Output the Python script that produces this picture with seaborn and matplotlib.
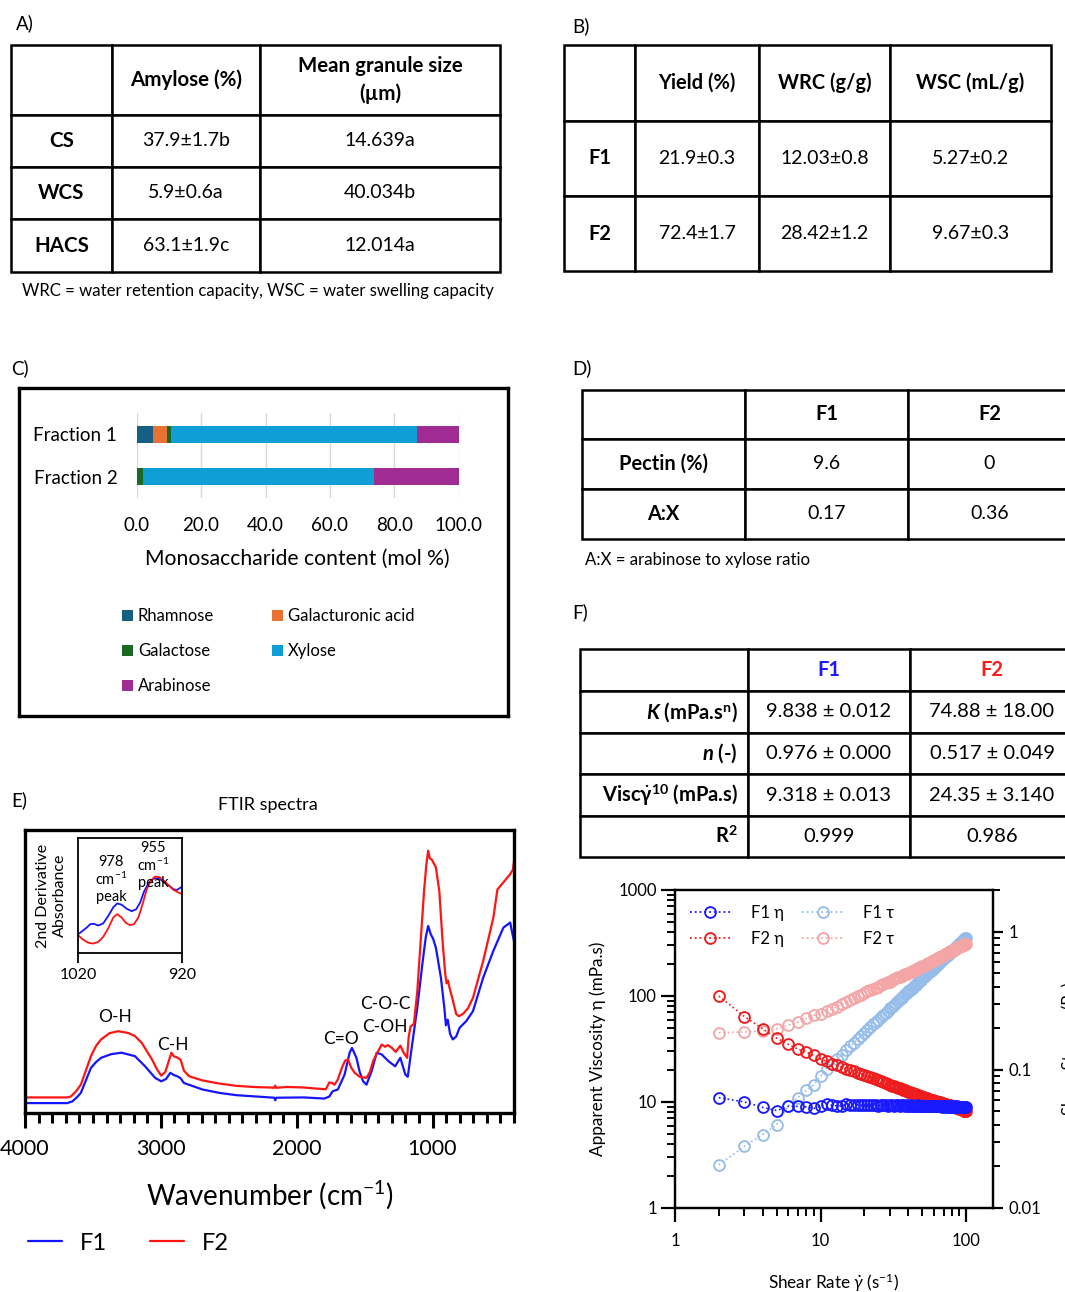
import matplotlib
matplotlib.use("Agg")
import matplotlib.pyplot as plt
import seaborn as sns
import numpy as np
import pandas as pd
from matplotlib.lines import Line2D
from matplotlib.patches import Patch
from matplotlib.ticker import MultipleLocator, NullFormatter

# ----------------------------- DATA -----------------------------
# Table A
tabA_header = ["", "Amylose (%)", "Mean granule size\n(µm)"]
tabA_rows = ["CS", "WCS", "HACS"]
tabA_amylose = ["37.9±1.7b", "5.9±0.6a", "63.1±1.9c"]
tabA_size = ["14.639a", "40.034b", "12.014a"]
tabA_note = "WRC = water retention capacity, WSC = water swelling capacity"

# Table B
tabB_header = ["", "Yield (%)", "WRC (g/g)", "WSC (mL/g)"]
tabB_rows = ["F1", "F2"]
tabB_yield = ["21.9±0.3", "72.4±1.7"]
tabB_wrc = ["12.03±0.8", "28.42±1.2"]
tabB_wsc = ["5.27±0.2", "9.67±0.3"]

# Panel C: monosaccharide composition (mol %)
fractions = ["Fraction 1", "Fraction 2"]
sugars = ["Rhamnose", "Galacturonic acid", "Galactose", "Xylose", "Arabinose"]
rhamnose = [5.2, 0.0]
galacturonic = [4.1, 0.0]
galactose = [1.2, 2.1]
xylose = [76.6, 71.6]
arabinose = [12.9, 26.3]
sugar_colors = ["#156082", "#E97132", "#196B24", "#0F9ED5", "#A02B93"]

# Table D
tabD_header = ["", "F1", "F2"]
tabD_rows = ["Pectin (%)", "A:X"]
tabD_f1 = ["9.6", "0.17"]
tabD_f2 = ["0", "0.36"]
tabD_note = "A:X = arabinose to xylose ratio"

# Panel E: FTIR spectra (wavenumber cm-1, absorbance a.u.)
ftir_wn_f2 = [4000, 3689, 3664, 3627, 3589, 3552, 3515, 3477, 3440, 3378,
              3315, 3241, 3191, 3141, 3066, 3029, 2997, 2967, 2942, 2922,
              2904, 2887, 2855, 2830, 2793, 2693, 2569, 2444, 2320, 2195,
              2165, 2158, 2150, 2071, 1946, 1847, 1785, 1760, 1740, 1722,
              1697, 1667, 1643, 1622, 1598, 1573, 1536, 1486, 1461, 1436,
              1404, 1374, 1349, 1329, 1299, 1270, 1237, 1212, 1187, 1175,
              1162, 1137, 1112, 1087, 1062, 1045, 1032, 1020, 1005, 975,
              950, 926, 906, 896, 886, 876, 851, 826, 806, 776,
              739, 702, 627, 552, 522, 478, 428, 408, 400]
ftir_abs_f2 = [5.5, 5.5, 5.8, 7.5, 10.0, 15.0, 20.0, 23.7, 26.0, 28.2,
               28.9, 28.3, 27.2, 24.8, 19.0, 15.5, 13.2, 14.5, 18.3, 21.3,
               20.0, 19.8, 18.9, 15.0, 13.0, 11.5, 10.4, 9.6, 9.2, 9.0,
               8.9, 9.7, 8.9, 9.2, 9.0, 8.6, 8.4, 10.8, 10.6, 10.0,
               11.8, 16.0, 18.5, 18.9, 16.0, 14.2, 12.8, 12.4, 14.5, 18.5,
               21.5, 24.2, 23.4, 24.0, 23.0, 21.6, 23.8, 21.3, 19.5, 27.0,
               30.5, 31.5, 43.0, 60.8, 78.5, 88.0, 92.7, 90.0, 89.5, 86.8,
               78.5, 60.8, 49.0, 45.8, 46.8, 44.5, 40.0, 35.0, 34.2, 35.0,
               37.0, 40.7, 53.7, 69.0, 79.0, 81.5, 84.4, 86.0, 89.0]
ftir_wn_f1 = [4000, 3689, 3651, 3619, 3589, 3552, 3515, 3477, 3440, 3365,
              3290, 3191, 3116, 3042, 2997, 2962, 2930, 2904, 2880, 2855,
              2830, 2693, 2569, 2444, 2320, 2165, 2158, 2150, 1946, 1797,
              1760, 1735, 1697, 1647, 1610, 1593, 1560, 1536, 1511, 1486,
              1448, 1411, 1374, 1324, 1275, 1237, 1200, 1182, 1150, 1112,
              1075, 1050, 1032, 1013, 995, 975, 938, 913, 901, 888,
              871, 851, 826, 801, 751, 702, 627, 552, 478, 428,
              415, 400]
ftir_abs_f1 = [3.5, 3.5, 4.1, 5.5, 7.1, 11.5, 15.9, 18.0, 19.5, 20.8,
               21.3, 20.1, 16.5, 12.4, 11.2, 12.0, 14.2, 13.4, 13.0, 12.3,
               10.6, 8.3, 7.1, 6.3, 5.9, 5.4, 4.5, 5.4, 5.5, 5.1,
               5.8, 7.7, 8.3, 13.6, 21.3, 23.0, 19.5, 14.5, 11.2, 10.0,
               14.8, 21.3, 20.7, 18.3, 16.5, 19.5, 13.6, 12.8, 24.2, 37.2,
               52.5, 62.0, 66.1, 63.2, 61.5, 58.4, 47.8, 37.2, 31.0, 33.0,
               28.0, 26.0, 27.0, 30.1, 32.5, 36.0, 47.8, 57.3, 65.5, 67.3,
               64.0, 60.8]
ftir_ticks = [4000, 3000, 2000, 1000]
ftir_labels = [("O-H", 3336, 34.0), ("C-H", 2912, 24.2), ("C=O", 1672, 26.0),
               ("C-O-C", 1349, 38.4), ("C-OH", 1349, 30.3)]

# Inset: 2nd derivative absorbance
inset_wn_f1 = [1020.0, 1016.8, 1011.9, 1008.1, 1004.8, 1000.6, 995.8, 991.0, 986.1, 982.3,
               978.1, 973.2, 968.4, 964.2, 960.3, 956.5, 952.3, 947.4, 942.6, 937.7,
               932.9, 928.1, 924.8, 920.0]
inset_f1 = [16.3, 18.4, 21.9, 25.1, 25.4, 23.9, 25.7, 32.1, 39.7, 43.1,
            42.0, 38.5, 36.4, 37.9, 43.7, 53.4, 60.6, 64.7, 65.0, 62.1,
            58.9, 55.4, 54.8, 57.7]
inset_wn_f2 = [1020.0, 1015.2, 1010.3, 1005.5, 1000.6, 995.8, 991.0, 986.1, 982.3, 978.1,
               973.9, 970.0, 966.1, 961.9, 957.7, 953.9, 950.0, 945.8, 941.6, 937.7,
               932.9, 928.1, 923.2, 920.0]
inset_f2 = [15.5, 11.7, 9.0, 8.2, 9.6, 14.0, 21.3, 30.9, 33.8, 30.9,
            26.2, 24.2, 25.1, 30.9, 43.1, 55.4, 63.0, 66.5, 65.9, 63.0,
            58.9, 54.8, 52.5, 51.3]

# Table F
tabF_header = ["", "F1", "F2"]
tabF_rows = ["$\\mathbfit{K}$ (mPa.s$^{\\mathbf{n}}$)", "$\\mathbfit{n}$ (-)",
             "Visc$\\dot{\\mathbf{\\gamma}}^{\\mathbf{10}}$ (mPa.s)", "R$^{\\mathbf{2}}$"]
tabF_f1 = ["9.838 ± 0.012", "0.976 ± 0.000", "9.318 ± 0.013", "0.999"]
tabF_f2 = ["74.88 ± 18.00", "0.517 ± 0.049", "24.35 ± 3.140", "0.986"]

# Panel F: flow curves
shear_rate = [2, 3, 4, 5, 6, 7, 8, 9, 10,
              11, 12, 13, 14, 15, 16, 17, 18, 19, 20,
              21, 22, 23, 24, 25, 26, 27, 28, 29, 30,
              31, 32, 33, 34, 35, 36, 37, 38, 39, 40,
              41, 42, 43, 44, 45, 46, 47, 48, 49, 50,
              51, 52, 53, 54, 55, 56, 57, 58, 59, 60,
              61, 62, 63, 64, 65, 66, 67, 68, 69, 70,
              71, 72, 73, 74, 75, 76, 77, 78, 79, 80,
              81, 82, 83, 84, 85, 86, 87, 88, 89, 90,
              91, 92, 93, 94, 95, 96, 97, 98, 99, 100]
eta_f1 = [11.0, 10.0, 8.9, 8.3, 9.1, 9.1, 9.0, 8.7, 9.1,
          9.5, 9.3, 9.2, 9.2, 9.5, 9.4, 9.3, 9.4, 9.3, 9.3,
          9.4, 9.3, 9.3, 9.4, 9.2, 9.3, 9.3, 9.4, 9.2, 9.3,
          9.3, 9.2, 9.4, 9.3, 9.2, 9.3, 9.3, 9.2, 9.3, 9.2,
          9.2, 9.3, 9.2, 9.1, 9.2, 9.2, 9.3, 9.2, 9.1, 9.2,
          9.2, 9.1, 9.2, 9.2, 9.1, 9.2, 9.2, 9.1, 9.2, 9.1,
          9.1, 9.2, 9.1, 9.1, 9.2, 9.1, 9.1, 9.0, 9.1, 9.1,
          9.1, 9.0, 9.1, 9.1, 9.0, 9.1, 9.0, 9.0, 9.1, 9.0,
          9.0, 9.1, 9.0, 9.0, 9.0, 9.1, 9.0, 9.0, 9.0, 9.0,
          9.0, 8.9, 9.0, 9.0, 8.9, 9.0, 9.0, 8.9, 9.0, 8.9]
eta_f2 = [100.0, 64.0, 49.0, 40.0, 35.0, 31.5, 29.5, 27.5, 25.5,
          24.2, 23.0, 22.1, 21.3, 20.5, 19.9, 19.4, 18.9, 18.4, 18.0,
          17.6, 17.2, 16.8, 16.4, 16.0, 15.7, 15.4, 15.1, 14.8, 14.5,
          14.3, 14.1, 13.9, 13.7, 13.5, 13.3, 13.1, 12.9, 12.7, 12.5,
          12.4, 12.2, 12.1, 12.0, 11.8, 11.7, 11.6, 11.5, 11.3, 11.2,
          11.1, 11.0, 10.9, 10.8, 10.7, 10.6, 10.5, 10.5, 10.4, 10.3,
          10.2, 10.2, 10.1, 10.0, 10.0, 9.9, 9.8, 9.8, 9.7, 9.6,
          9.6, 9.5, 9.5, 9.4, 9.4, 9.3, 9.3, 9.2, 9.2, 9.1,
          9.0, 9.0, 8.9, 8.9, 8.9, 8.8, 8.8, 8.7, 8.7, 8.6,
          8.6, 8.5, 8.5, 8.5, 8.4, 8.4, 8.3, 8.3, 8.2, 8.2]
tau_f1 = [0.0205, 0.028, 0.034, 0.040, 0.055, 0.063, 0.071, 0.078, 0.090,
          0.102, 0.111, 0.119, 0.128, 0.140, 0.148, 0.157, 0.168, 0.176, 0.185,
          0.194, 0.204, 0.213, 0.222, 0.231, 0.241, 0.250, 0.259, 0.268, 0.278,
          0.287, 0.296, 0.305, 0.315, 0.324, 0.333, 0.342, 0.352, 0.361, 0.370,
          0.375, 0.384, 0.393, 0.403, 0.412, 0.421, 0.430, 0.439, 0.448, 0.458,
          0.467, 0.476, 0.485, 0.494, 0.503, 0.512, 0.522, 0.531, 0.540, 0.549,
          0.558, 0.567, 0.576, 0.586, 0.595, 0.604, 0.613, 0.622, 0.631, 0.641,
          0.643, 0.652, 0.661, 0.670, 0.679, 0.688, 0.697, 0.706, 0.715, 0.724,
          0.733, 0.742, 0.751, 0.760, 0.769, 0.778, 0.787, 0.796, 0.805, 0.815,
          0.824, 0.833, 0.842, 0.851, 0.860, 0.869, 0.878, 0.887, 0.896, 0.905]
tau_f2 = [0.185, 0.188, 0.192, 0.198, 0.210, 0.221, 0.236, 0.248, 0.255,
          0.266, 0.276, 0.287, 0.298, 0.308, 0.318, 0.330, 0.340, 0.350, 0.360,
          0.370, 0.378, 0.386, 0.394, 0.400, 0.408, 0.416, 0.423, 0.429, 0.435,
          0.443, 0.451, 0.459, 0.466, 0.473, 0.479, 0.485, 0.490, 0.495, 0.500,
          0.508, 0.512, 0.520, 0.528, 0.531, 0.538, 0.545, 0.552, 0.554, 0.560,
          0.566, 0.572, 0.578, 0.583, 0.589, 0.594, 0.599, 0.609, 0.614, 0.618,
          0.622, 0.632, 0.636, 0.640, 0.650, 0.653, 0.657, 0.666, 0.669, 0.672,
          0.682, 0.684, 0.694, 0.696, 0.705, 0.707, 0.716, 0.718, 0.727, 0.728,
          0.733, 0.738, 0.742, 0.748, 0.756, 0.759, 0.766, 0.769, 0.774, 0.777,
          0.783, 0.785, 0.790, 0.797, 0.800, 0.806, 0.808, 0.813, 0.815, 0.820]

# ----------------------------- STYLE -----------------------------
sns.set_style("ticks")
plt.rcParams["font.family"] = ["Lato", "DejaVu Sans"]
plt.rcParams.update({
    "mathtext.fontset": "custom",
    "mathtext.rm": "Lato",
    "mathtext.it": "Lato:italic",
    "mathtext.bf": "Lato:bold",
    "mathtext.bfit": "Lato:bold:italic",
    "text.color": "black", "axes.labelcolor": "black",
    "xtick.color": "black", "ytick.color": "black",
    "axes.edgecolor": "black",
})

W, H = 1065, 1292
fig = plt.figure(figsize=(W / 100, H / 100), dpi=100)


def rect(x0, y0, x1, y1):
    return [x0 / W, 1 - y1 / H, (x1 - x0) / W, (y1 - y0) / H]


def fx(x):
    return x / W


def fy(y):
    return 1 - y / H


def make_table(px, cells, col_w, row_h, fs, bold_fs, header_colors=None,
               first_col_right=False):
    ax = fig.add_axes(rect(*px))
    ax.set_axis_off()
    tb = ax.table(cellText=cells, colWidths=col_w, cellLoc="center", bbox=[0, 0, 1, 1])
    tb.auto_set_font_size(False)
    tb.set_fontsize(fs)
    for (r, c), cell in tb.get_celld().items():
        cell.set_height(row_h[r])
        cell.set_linewidth(1.8)
        cell.set_edgecolor("black")
        t = cell.get_text()
        t.set_color("black")
        t.set_linespacing(1.45)
        if r == 0 or c == 0:
            t.set_fontweight("bold")
            t.set_fontsize(bold_fs)
        if header_colors is not None and r == 0 and c > 0:
            t.set_color(header_colors[c - 1])
        if first_col_right and c == 0 and r > 0:
            t.set_horizontalalignment("right")
            cell.PAD = 0.06
    return tb


# panel letters
for lab, x, y in [("A)", 16, 23), ("B)", 572, 26), ("C)", 11, 368), ("D)", 572, 368),
                  ("E)", 11, 800), ("F)", 572, 612)]:
    fig.text(fx(x), fy(y), lab, fontsize=13.5, ha="left", va="center")

# ----------------------------- TABLE A -----------------------------
cellsA = [tabA_header] + [[tabA_rows[i], tabA_amylose[i], tabA_size[i]] for i in range(3)]
make_table((11, 45, 500, 272), cellsA, [101, 148, 240], [70, 52, 52, 53], 14, 14.8)
fig.text(fx(258), fy(291), tabA_note, fontsize=12.1, ha="center", va="center")

# ----------------------------- TABLE B -----------------------------
cellsB = [tabB_header] + [[tabB_rows[i], tabB_yield[i], tabB_wrc[i], tabB_wsc[i]] for i in range(2)]
make_table((564, 45, 1051, 271), cellsB, [71, 124, 131, 161], [76, 75, 75], 14, 14.4)

# ----------------------------- PANEL C -----------------------------
ax_frame = fig.add_axes(rect(19, 388, 508, 716))
ax_frame.set_xticks([])
ax_frame.set_yticks([])
ax_frame.set_facecolor("none")
for s in ax_frame.spines.values():
    s.set_visible(True)
    s.set_linewidth(2.4)

ax_c = fig.add_axes(rect(136.7, 413, 458.7, 498))
df_c = pd.DataFrame({"fraction": fractions, "Rhamnose": rhamnose,
                     "Galacturonic acid": galacturonic, "Galactose": galactose,
                     "Xylose": xylose, "Arabinose": arabinose})
cum = df_c[sugars].cumsum(axis=1)
for sugar, col in reversed(list(zip(sugars, sugar_colors))):
    sns.barplot(x=cum[sugar], y=df_c["fraction"], orient="h", color=col, saturation=1,
                width=0.4, linewidth=0, errorbar=None, ax=ax_c)
ax_c.set_xlim(0, 100)
ax_c.set_ylim(1.5, -0.5)
ax_c.set_xticks([0, 20, 40, 60, 80, 100])
ax_c.set_xticklabels(["0.0", "20.0", "40.0", "60.0", "80.0", "100.0"])
ax_c.grid(axis="x", color="#d9d9d9", lw=1)
ax_c.set_axisbelow(True)
for s in ax_c.spines.values():
    s.set_visible(False)
ax_c.tick_params(axis="both", length=0, labelsize=13.5)
ax_c.tick_params(axis="x", pad=13.5)
ax_c.tick_params(axis="y", pad=14)
ax_c.set_ylabel("")
ax_c.set_xlabel("Monosaccharide content (mol %)", fontsize=15.2, labelpad=11)

handles_c = [Patch(facecolor=c, edgecolor="none", label=s) for s, c in zip(sugars, sugar_colors)]
order = [0, 2, 4, 1, 3]
fig.legend(handles=[handles_c[i] for i in order], ncol=2, loc="upper left",
           bbox_to_anchor=(fx(122), fy(608)), frameon=False, fontsize=12,
           handlelength=0.65, handleheight=0.65, handletextpad=0.3,
           columnspacing=3.5, labelspacing=1.15, borderpad=0, borderaxespad=0)

# ----------------------------- TABLE D -----------------------------
cellsD = [tabD_header] + [[tabD_rows[i], tabD_f1[i], tabD_f2[i]] for i in range(2)]
make_table((582, 390, 1071, 539), cellsD, [163, 163, 163], [49, 50, 50], 14, 14.4)
fig.text(fx(585), fy(560), tabD_note, fontsize=12.1, ha="left", va="center")

# ----------------------------- PANEL E -----------------------------
ax_e = fig.add_axes(rect(25, 830, 514, 1113))
sns.lineplot(x=ftir_wn_f1, y=ftir_abs_f1, ax=ax_e, color="#1414ff", lw=1.6,
             estimator=None, sort=False)
sns.lineplot(x=ftir_wn_f2, y=ftir_abs_f2, ax=ax_e, color="#ff1414", lw=1.6,
             estimator=None, sort=False)
ax_e.set_xlim(4000, 400)
ax_e.set_ylim(0, 100)
ax_e.set_xticks(ftir_ticks)
ax_e.set_xticklabels([str(t) for t in ftir_ticks])
ax_e.xaxis.set_minor_locator(MultipleLocator(100))
ax_e.set_yticks([])
ax_e.tick_params(axis="x", which="major", direction="out", length=10.5, width=2.2,
                 labelsize=15.5, pad=8, bottom=True)
ax_e.tick_params(axis="x", which="minor", direction="out", length=7, width=2.2, bottom=True)
for s in ax_e.spines.values():
    s.set_visible(True)
    s.set_linewidth(2.4)
ax_e.set_ylabel("")
ax_e.set_xlabel("Wavenumber (cm$^{-1}$)", fontsize=20, labelpad=14)
for txt, x, y in ftir_labels:
    ax_e.text(x, y, txt, ha="center", va="center", fontsize=12.5)
fig.text(fx(268), fy(805), "FTIR spectra", fontsize=13, ha="center", va="center")

ax_in = fig.add_axes(rect(78, 838, 182, 953))
sns.lineplot(x=inset_wn_f1, y=inset_f1, ax=ax_in, color="#1414ff", lw=1.3,
             estimator=None, sort=False)
sns.lineplot(x=inset_wn_f2, y=inset_f2, ax=ax_in, color="#ff1414", lw=1.3,
             estimator=None, sort=False)
ax_in.set_xlim(1020, 920)
ax_in.set_ylim(0, 100)
ax_in.set_xticks([1020, 920])
ax_in.set_xticklabels(["1020", "920"])
ax_in.set_yticks([])
ax_in.tick_params(axis="x", length=7, width=1.3, labelsize=11.5, pad=4, direction="out",
                  bottom=True)
for s in ax_in.spines.values():
    s.set_visible(True)
    s.set_linewidth(1.3)
ax_in.set_xlabel("")
ax_in.set_ylabel("2nd Derivative\nAbsorbance", fontsize=11.5, labelpad=8, linespacing=1.25)
ax_in.text(988, 64, "978\ncm$^{-1}$\npeak", ha="center", va="center", fontsize=10.5,
           linespacing=1.15)
ax_in.text(948, 76, "955\ncm$^{-1}$\npeak", ha="center", va="center", fontsize=10.5,
           linespacing=1.15)

fig.legend(handles=[Line2D([], [], color="#1414ff", lw=1.6, label="F1"),
                    Line2D([], [], color="#ff1414", lw=1.6, label="F2")],
           ncol=2, loc="center left", bbox_to_anchor=(fx(28), fy(1243)), frameon=False,
           fontsize=17, handlelength=1.45, handletextpad=0.75, columnspacing=1.8,
           borderpad=0, borderaxespad=0)

# ----------------------------- TABLE F -----------------------------
cellsF = [tabF_header] + [[tabF_rows[i], tabF_f1[i], tabF_f2[i]] for i in range(4)]
make_table((580, 649, 1074, 857), cellsF, [168, 162, 164], [42, 42, 42, 42, 41], 14.5, 14.5,
           header_colors=["#1a1aff", "#ff1a1a"], first_col_right=True)

# ----------------------------- PANEL F plot -----------------------------
c_f1, c_f2 = "#1a1aff", "#ee1c1c"
c_t1, c_t2 = "#96bdea", "#f4a5a5"
ax_f = fig.add_axes(rect(675, 890, 993, 1208))
ax_t = ax_f.twinx()
mk = dict(marker="o", markersize=7.8, markerfacecolor="none", markeredgewidth=1.35,
          linestyle=":", lw=1.2, estimator=None, sort=False)
sns.lineplot(x=shear_rate, y=tau_f1, ax=ax_t, color=c_t1, markeredgecolor=c_t1, **mk)
sns.lineplot(x=shear_rate, y=tau_f2, ax=ax_t, color=c_t2, markeredgecolor=c_t2, **mk)
sns.lineplot(x=shear_rate, y=eta_f2, ax=ax_f, color=c_f2, markeredgecolor=c_f2, **mk)
sns.lineplot(x=shear_rate, y=eta_f1, ax=ax_f, color=c_f1, markeredgecolor=c_f1, **mk)
ax_f.set_zorder(ax_t.get_zorder() + 1)
ax_f.patch.set_visible(False)

ax_f.set_xscale("log")
ax_f.set_yscale("log")
ax_t.set_yscale("log")
ax_f.set_xlim(1, 153)
ax_f.set_ylim(1, 1000)
ax_t.set_ylim(0.01, 2.0)
ax_f.set_xticks([1, 10, 100])
ax_f.set_xticklabels(["1", "10", "100"])
ax_f.set_yticks([1, 10, 100, 1000])
ax_f.set_yticklabels(["1", "10", "100", "1000"])
ax_t.set_yticks([0.01, 0.1, 1])
ax_t.set_yticklabels(["0.01", "0.1", "1"])
for a in (ax_f.xaxis, ax_f.yaxis, ax_t.yaxis):
    a.set_minor_formatter(NullFormatter())
ax_f.tick_params(which="major", direction="out", length=10, width=1.6, labelsize=12,
                 left=True, bottom=True)
ax_f.tick_params(which="minor", direction="out", length=5.5, width=1.4, left=True, bottom=True)
ax_f.tick_params(axis="x", which="major", pad=8)
ax_f.tick_params(axis="y", which="major", pad=3)
ax_t.tick_params(which="major", direction="out", length=7, width=1.6, labelsize=12, right=True,
                 pad=4)
ax_t.tick_params(which="minor", direction="out", length=5, width=1.4, right=True)
for a in (ax_f, ax_t):
    for s in a.spines.values():
        s.set_visible(True)
        s.set_linewidth(1.6)
ax_f.set_ylabel("Apparent Viscosity η (mPa.s)", fontsize=12.3, labelpad=9)
ax_f.set_xlabel("Shear Rate $\\dot{\\gamma}$ (s$^{-1}$)", fontsize=12.3, labelpad=16)
ax_t.set_ylabel("Shear Stress τ (Pa)", fontsize=12, labelpad=15)

leg_handles = []
for col, lab in [(c_f1, "F1 η"), (c_f2, "F2 η"), (c_t1, "F1 τ"), (c_t2, "F2 τ")]:
    leg_handles.append(Line2D([0], [0], color=col, linestyle=":", lw=1.3, marker="o",
                              markersize=7.8, markerfacecolor="none", markeredgecolor=col,
                              markeredgewidth=1.35, label=lab))
ax_f.legend(handles=leg_handles, ncol=2, loc="upper left",
            bbox_to_anchor=(fx(690), fy(905)), bbox_transform=fig.transFigure,
            frameon=False, fontsize=12, handlelength=2.45, handletextpad=1.2,
            columnspacing=1.1, borderpad=0, borderaxespad=0, labelspacing=0.6, numpoints=1)

fig.savefig("out.png", dpi=100, facecolor="white")
